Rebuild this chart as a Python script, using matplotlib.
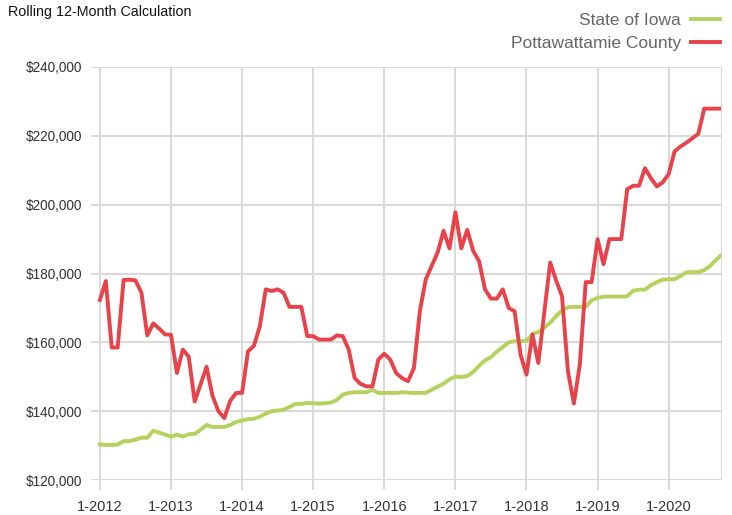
import matplotlib
matplotlib.use("Agg")
import matplotlib.pyplot as plt
import numpy as np

# monthly rolling 12-month values, Jan 2012 .. Oct 2020 (thousands of $)
iowa = [130.3, 130.2, 130.2, 130.3, 131.3, 131.3, 131.7, 132.3, 132.3, 134.3,
        133.8, 133.2, 132.6, 133.2, 132.6, 133.3, 133.4, 134.6, 136.0, 135.4,
        135.4, 135.4, 136.0, 136.9, 137.3, 137.7, 137.8, 138.4, 139.3, 140.0,
        140.2, 140.4, 141.2, 142.1, 142.1, 142.4, 142.3, 142.2, 142.3, 142.5,
        143.3, 144.8, 145.3, 145.5, 145.5, 145.5, 146.2, 145.3, 145.3, 145.3,
        145.3, 145.5, 145.4, 145.3, 145.3, 145.3, 146.2, 147.1, 148.0, 149.2,
        150.1, 149.9, 150.2, 151.4, 153.2, 154.8, 155.7, 157.3, 158.6, 160.0,
        160.3, 160.3, 160.4, 162.4, 163.0, 164.3, 165.7, 167.6, 169.3, 170.2,
        170.3, 170.3, 170.3, 172.2, 172.9, 173.3, 173.3, 173.3, 173.3, 173.4,
        175.0, 175.3, 175.3, 176.6, 177.5, 178.2, 178.3, 178.3, 179.3, 180.3,
        180.4, 180.4, 181.0, 182.2, 184.0, 185.5]

pott = [172.3, 177.8, 158.5, 158.5, 178.1, 178.2, 178.0, 174.5, 162.0, 165.5,
        164.0, 162.3, 162.2, 151.1, 157.9, 155.8, 142.8, 147.8, 152.9, 144.5,
        140.0, 138.0, 143.0, 145.3, 145.3, 157.4, 159.0, 164.7, 175.4, 174.9,
        175.4, 174.4, 170.3, 170.3, 170.3, 161.8, 161.8, 160.8, 160.8, 160.8,
        162.0, 161.8, 157.9, 149.6, 147.9, 147.2, 147.2, 155.0, 156.7, 155.0,
        151.1, 149.6, 148.7, 152.5, 169.0, 178.3, 182.2, 186.1, 192.4, 187.3,
        197.8, 187.3, 192.7, 186.6, 183.6, 175.4, 172.7, 172.7, 175.4, 170.0,
        169.0, 156.4, 150.6, 162.3, 154.0, 168.6, 183.2, 178.0, 173.4, 151.6,
        142.2, 153.5, 177.5, 177.5, 190.0, 182.7, 190.0, 190.0, 190.0, 204.5,
        205.5, 205.5, 210.6, 207.7, 205.3, 206.5, 208.9, 215.5, 216.9, 218.0,
        219.3, 220.6, 227.9, 227.9, 227.9, 227.9]

years = list(range(2012, 2021))
xlabels = ["1-%d" % y for y in years]
ylabels = ["$%d,000" % v for v in range(120, 241, 20)]

plt.rcParams['font.family'] = ['Liberation Sans', 'DejaVu Sans']

fig = plt.figure(figsize=(7.32, 5.15), dpi=100)
ax = fig.add_axes([91/732, 1 - 480/515, 631/732, 413/515])

months = np.arange(len(pott))
grid_c = "#d9d9d9"

ax.plot(months, iowa, color="#b6d25e", lw=2.8, label="State of Iowa")
ax.plot(months, pott, color="#e8434b", lw=2.8, label="Pottawattamie County")

ax.set_xlim(-1.5, 105)
ax.set_ylim(120, 240)
ax.set_xticks([12 * i for i in range(len(years))])
ax.set_xticklabels(xlabels)
ax.set_yticks(range(120, 241, 20))
ax.set_yticklabels(ylabels)

ax.grid(True, color=grid_c, lw=1.4)
ax.axvline(105, color=grid_c, lw=1.4)
ax.set_axisbelow(True)
for s in ax.spines.values():
    s.set_visible(False)
ax.tick_params(axis="x", length=7.5, width=1.4, color=grid_c, labelsize=10.5,
               labelcolor="#333333", pad=7)
ax.tick_params(axis="y", length=0, labelsize=9.8, labelcolor="#333333", pad=6.5)

fig.text(8/732, 1 - 12/515, "Rolling 12-Month Calculation", fontsize=10.3,
         color="#111111", va="center", ha="left")

leg = ax.legend(loc="upper right", bbox_to_anchor=(727/732, 1 - 6/515),
                bbox_transform=fig.transFigure, frameon=False, markerfirst=False,
                fontsize=12.5, labelcolor="#666666", handlelength=1.7,
                handletextpad=0.55, labelspacing=0.45, borderaxespad=0)

fig.savefig("out.png", dpi=100)
